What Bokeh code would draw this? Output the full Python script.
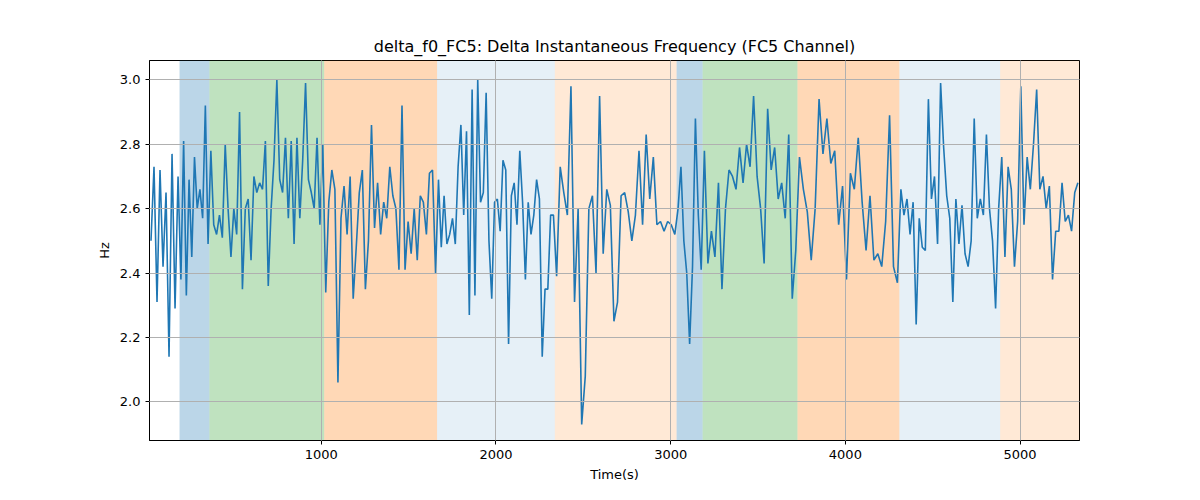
import numpy as np
from bokeh.plotting import figure
from bokeh.models import BoxAnnotation, Range1d, FixedTicker, NumeralTickFormatter
from bokeh.embed import file_html
from bokeh.resources import INLINE

span_bounds = [17, 189, 360, 1017, 1663, 2337, 3034, 3183, 3726, 4309, 4886, 5340]
span_colors = [None, "#1f77b4", "#2ca02c", "#ff7f0e", "#1f77b4", "#ff7f0e",
               "#1f77b4", "#2ca02c", "#ff7f0e", "#1f77b4", "#ff7f0e"]
span_alphas = [0, 0.3, 0.3, 0.3, 0.11, 0.17, 0.3, 0.3, 0.3, 0.11, 0.17]

seg_values = [
    [2.5, 2.73, 2.31, 2.72, 2.42, 2.65, 2.14, 2.77, 2.29, 2.7],
    [2.38, 2.81, 2.33, 2.69, 2.45, 2.76, 2.6, 2.66, 2.57, 2.92, 2.49],
    [2.78, 2.55, 2.52, 2.58, 2.51, 2.8, 2.6, 2.45, 2.6, 2.52, 2.9, 2.35, 2.6, 2.63, 2.44, 2.7, 2.65, 2.68, 2.66, 2.81,
     2.36, 2.6, 2.75, 3.0, 2.69, 2.65, 2.82, 2.57, 2.81, 2.49, 2.82, 2.57, 2.75, 2.99, 2.69, 2.65, 2.6, 2.82, 2.55, 2.8],
    [2.34, 2.62, 2.72, 2.66, 2.06, 2.57, 2.67, 2.52, 2.7, 2.32, 2.48, 2.65, 2.72, 2.35, 2.5, 2.86, 2.54, 2.68, 2.52,
     2.62, 2.57, 2.73, 2.64, 2.6, 2.41, 2.92, 2.41, 2.56, 2.46, 2.6, 2.44, 2.64, 2.62, 2.52, 2.71, 2.72, 2.4],
    [2.69, 2.48, 2.64, 2.49, 2.52, 2.57, 2.49, 2.73, 2.86, 2.58, 2.84, 2.27, 2.97, 2.33, 3.0, 2.62, 2.65, 2.96, 2.5,
     2.32, 2.62, 2.63, 2.53, 2.75, 2.72, 2.18, 2.64, 2.68, 2.55, 2.78, 2.62, 2.38, 2.62, 2.52, 2.58, 2.69, 2.63, 2.14,
     2.35, 2.35, 2.58, 2.58],
    [2.39, 2.73, 2.65, 2.58, 2.98, 2.31, 2.6, 1.93, 2.08, 2.6, 2.64, 2.4, 2.95, 2.46, 2.66, 2.61, 2.25, 2.31, 2.64,
     2.65, 2.59, 2.5, 2.58, 2.78, 2.55, 2.83, 2.63, 2.76, 2.55, 2.56, 2.53, 2.56, 2.55, 2.52],
    [2.6, 2.73, 2.5, 2.4, 2.18, 2.42, 2.88, 2.58, 2.41],
    [2.78, 2.43, 2.53, 2.45, 2.68, 2.35, 2.6, 2.72, 2.7, 2.66, 2.79, 2.68, 2.8, 2.73, 2.95, 2.7, 2.6, 2.43, 2.91,
     2.72, 2.79, 2.63, 2.68, 2.57, 2.83, 2.32, 2.47],
    [2.76, 2.66, 2.59, 2.44, 2.6, 2.94, 2.77, 2.88, 2.74, 2.78, 2.55, 2.67, 2.38, 2.71, 2.66, 2.82, 2.62, 2.47, 2.64,
     2.44, 2.46, 2.42, 2.56, 2.89, 2.42, 2.37],
    [2.66, 2.58, 2.63, 2.52, 2.62, 2.24, 2.57, 2.48, 2.47, 2.94, 2.63, 2.7, 2.49, 2.99, 2.79, 2.64, 2.57, 2.31, 2.63,
     2.49, 2.61, 2.46, 2.42, 2.5, 2.88, 2.57, 2.63, 2.58, 2.83, 2.6, 2.5, 2.29, 2.6],
    [2.76, 2.45, 2.73, 2.66, 2.42, 2.56, 2.98, 2.55, 2.76, 2.66, 2.8, 2.97, 2.66, 2.7, 2.6, 2.67, 2.38, 2.53, 2.53,
     2.68, 2.56, 2.58, 2.53, 2.65, 2.68],
]

xs, ys = [], []
for i, vals in enumerate(seg_values):
    a, b = span_bounds[i], span_bounds[i + 1]
    step = (b - a) / len(vals)
    xs += list(a + step * (np.arange(len(vals)) + 0.5))
    ys += vals

p = figure(width=1184, height=484, output_backend="svg", toolbar_location=None,
           title="delta_f0_FC5: Delta Instantaneous Frequency (FC5 Channel)",
           x_axis_label="Time(s)", y_axis_label="Hz",
           min_border_left=149, min_border_right=105, min_border_top=60, min_border_bottom=35)
p.x_range = Range1d(17, 5340)
p.y_range = Range1d(1.88, 3.06)

for i in range(1, len(span_colors)):
    p.add_layout(BoxAnnotation(left=span_bounds[i], right=span_bounds[i + 1],
                               fill_color=span_colors[i], fill_alpha=span_alphas[i],
                               line_color=None, level="underlay"))

p.line(xs, ys, line_color="#1f77b4", line_width=1.6)

p.title.align = "center"
p.title.text_font_style = "normal"
p.title.text_font_size = "16px"
p.title.text_font = "DejaVu Sans"
p.title.text_color = "black"
p.xaxis.ticker = FixedTicker(ticks=[1000, 2000, 3000, 4000, 5000])
p.yaxis.ticker = FixedTicker(ticks=[2.0, 2.2, 2.4, 2.6, 2.8, 3.0])
p.yaxis.formatter = NumeralTickFormatter(format="0.0")
for ax in (p.xaxis, p.yaxis):
    ax.axis_label_text_font_style = "normal"
    ax.axis_label_text_font = "DejaVu Sans"
    ax.major_label_text_font = "DejaVu Sans"
    ax.major_label_text_font_size = "13px"
    ax.axis_label_text_font_size = "13px"
    ax.major_label_text_color = "black"
    ax.axis_label_text_color = "black"
    ax.axis_line_color = "black"
    ax.major_tick_line_color = "black"
    ax.minor_tick_line_color = None
    ax.major_tick_in = 0
    ax.major_tick_out = 4
p.grid.grid_line_color = "#b0b0b0"
p.grid.grid_line_alpha = 1.0
p.grid.level = "overlay"
p.outline_line_color = "black"

open("out.html", "w").write(file_html(p, INLINE))
